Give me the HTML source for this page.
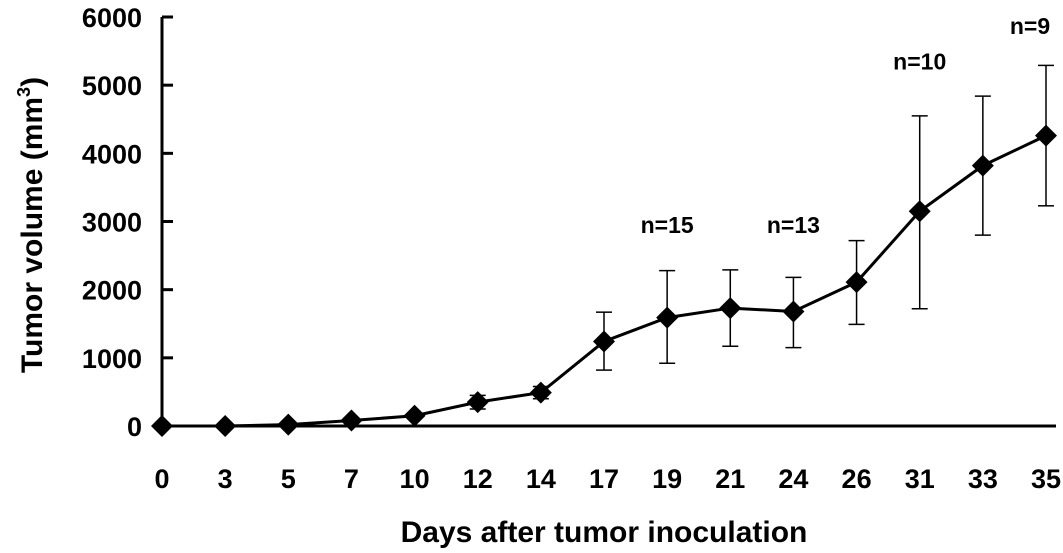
<!DOCTYPE html>
<html><head><meta charset="utf-8"><style>
html,body{margin:0;padding:0;background:#fff;}
svg{display:block;font-family:"Liberation Sans",Arial,sans-serif;font-weight:bold;}
</style></head><body>
<svg id="chart" width="1063" height="553" viewBox="0 0 1063 553"></svg>
<script>
const categories=["0","3","5","7","10","12","14","17","19","21","24","26","31","33","35"];
const values=[0,0,20,80,150,350,490,1240,1590,1730,1680,2110,3150,3820,4260];
const errLow=[0,0,0,0,0,250,400,820,920,1170,1150,1490,1720,2800,3230];
const errHigh=[0,0,0,0,0,450,580,1670,2280,2290,2180,2720,4550,4840,5290];
const yTicks=[0,1000,2000,3000,4000,5000,6000];
const annotations=[{i:8,t:"n=15",v:2950,dx:0},{i:10,t:"n=13",v:2950,dx:0},{i:12,t:"n=10",v:5350,dx:0},{i:14,t:"n=9",v:5870,dx:-16}];
const NS="http://www.w3.org/2000/svg";
const svg=document.getElementById('chart');
const x0=162,x1=1046,yb=426,yt=17;
const X=i=>x0+(x1-x0)*i/(categories.length-1);
const Y=v=>yb-(yb-yt)*v/6000;
function mk(t,a,p){const e=document.createElementNS(NS,t);for(const k in a)e.setAttribute(k,a[k]);(p||svg).appendChild(e);return e;}
let e;
e=mk('line',{x1:x0,y1:yt,x2:x0,y2:yb,stroke:'#000','stroke-width':3});


e=mk('line',{x1:x0,y1:yb,x2:1056,y2:yb,stroke:'#000','stroke-width':3});


yTicks.forEach(v=>{
 e=mk('line',{x1:x0,y1:Y(v),x2:x0+11,y2:Y(v),stroke:'#000','stroke-width':3});
 
 
 e=mk('text',{x:x0-20,y:Y(v)+10,'text-anchor':'end','font-size':27,'textLength':0});
 e.removeAttribute('textLength');
 e.textContent=v;
 
 
});
categories.forEach((c,i)=>{
 e=mk('text',{x:X(i),y:488,'text-anchor':'middle','font-size':27});
 e.textContent=c;
 
 
});
values.forEach((v,i)=>{
 if(errHigh[i]>v){
  const g=mk('g',{stroke:'#000','stroke-width':1.5});
  
  
  mk('line',{x1:X(i),y1:Y(errLow[i]),x2:X(i),y2:Y(errHigh[i])},g);
  mk('line',{x1:X(i)-8,y1:Y(errLow[i]),x2:X(i)+8,y2:Y(errLow[i])},g);
  mk('line',{x1:X(i)-8,y1:Y(errHigh[i]),x2:X(i)+8,y2:Y(errHigh[i])},g);
 }
});
e=mk('polyline',{points:values.map((v,i)=>X(i)+','+Y(v)).join(' '),fill:'none',stroke:'#000','stroke-width':3});


values.forEach((v,i)=>{
 const x=X(i),y=Y(v),r=11;
 e=mk('polygon',{points:`${x},${y-r} ${x+r},${y} ${x},${y+r} ${x-r},${y}`,fill:'#000'});
 
 
});
annotations.forEach(a=>{
 e=mk('text',{x:X(a.i)+a.dx,y:Y(a.v)+8,'text-anchor':'middle','font-size':23});
 e.textContent=a.t;
 
 
});
e=mk('text',{x:604,y:542,'text-anchor':'middle','font-size':30});
e.textContent='Days after tumor inoculation';


e=mk('text',{transform:'translate(42,225) rotate(-90)','text-anchor':'middle','font-size':30});
e.innerHTML='Tumor volume (mm<tspan font-size="18" dy="-12">3</tspan><tspan dy="12">)</tspan>';


</script>
</body></html>
